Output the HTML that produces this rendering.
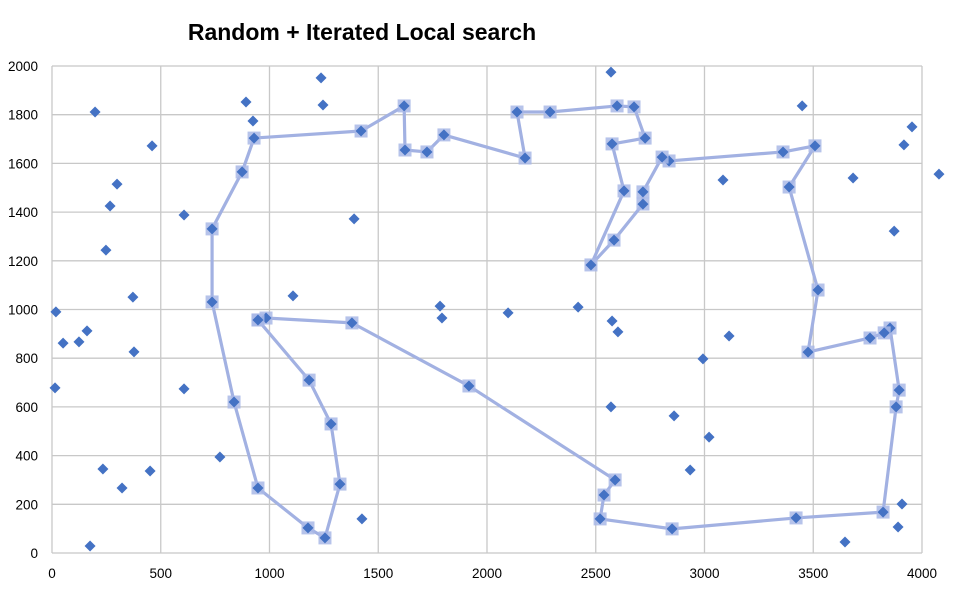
<!DOCTYPE html>
<html><head><meta charset="utf-8"><style>
body{margin:0;background:#fff;}
svg{display:block;font-family:"Liberation Sans",sans-serif;}
</style></head><body>
<svg id="c" width="955" height="589">
<text x="362" y="40" text-anchor="middle" font-size="23" font-weight="bold" fill="#000">Random + Iterated Local search</text>
<g id="grid"></g><g id="tour"></g><g id="pts"></g><g id="ticks"></g>
</svg>
<script>
const xTicks=[0,500,1000,1500,2000,2500,3000,3500,4000];
const yTicks=[0,200,400,600,800,1000,1200,1400,1600,1800,2000];
const tourX=[947,984,1379,1917,2589,2538,2520,2851,3421,3821,3881,3895,3853,3826,3761,3476,3522,3389,3508,3361,2837,2805,2717,2717,2584,2478,2630,2575,2727,2676,2598,2290,2138,2175,1802,1724,1623,1619,1421,929,874,736,736,837,947,1177,1255,1324,1283,1182,947];
const tourY=[957,965,945,686,300,238,140,99,144,168,600,669,924,904,883,825,1080,1503,1672,1647,1610,1626,1483,1433,1285,1183,1487,1680,1704,1832,1836,1811,1811,1622,1717,1647,1655,1836,1733,1704,1565,1331,1031,620,267,103,62,283,530,710,957];
const otherX=[198,460,299,267,248,372,18,51,124,161,377,14,607,607,772,234,322,451,175,892,924,1237,1246,1389,1108,1784,1793,2097,2419,1425,2570,2575,2602,2570,2860,2934,3021,2993,3113,3449,3085,3683,3954,3917,4078,3872,3908,3890,3646];
const otherY=[1811,1672,1515,1425,1244,1051,990,862,867,912,826,678,1388,674,394,345,267,337,29,1852,1774,1951,1840,1372,1056,1014,965,986,1010,140,1975,953,908,600,563,341,476,797,891,1836,1532,1540,1750,1676,1556,1322,201,107,45];
const L=52,R=922,T=66,B=553;
const sx=v=>L+(v/4000)*(R-L), sy=v=>B-(v/2000)*(B-T);
const NS='http://www.w3.org/2000/svg';
function mk(t,a,p){const e=document.createElementNS(NS,t);for(const k in a)e.setAttribute(k,a[k]);p.appendChild(e);return e;}
const g=document.getElementById('grid'),tk=document.getElementById('ticks');
xTicks.forEach(v=>{
 const l=mk('line',{x1:sx(v),x2:sx(v),y1:T,y2:B,stroke:'#c8c8c8','stroke-width':1.3},g);
 
 
 const t=mk('text',{x:sx(v),y:B+25,'text-anchor':'middle','font-size':13.5,fill:'#000'},tk);t.textContent=v;
 
 
});
yTicks.forEach(v=>{
 const l=mk('line',{x1:L,x2:R,y1:sy(v),y2:sy(v),stroke:'#c8c8c8','stroke-width':1.3},g);
 
 
 const t=mk('text',{x:38,y:sy(v)+5,'text-anchor':'end','font-size':13.5,fill:'#000'},tk);t.textContent=v;
 
 
});
const tg=document.getElementById('tour'),pg=document.getElementById('pts');
const pl=mk('polyline',{points:tourX.map((x,i)=>sx(x)+','+sy(tourY[i])).join(' '),fill:'none',stroke:'#a2b1e2','stroke-width':3.2,'stroke-linejoin':'round'},tg);


function diamond(x,y,halo,name){
 const cx=sx(x),cy=sy(y);
 if(halo){const h=mk('rect',{x:cx-6.5,y:cy-6.5,width:13,height:13,fill:'#a9b8e6',opacity:0.85},pg);
  
  }
 const d=mk('polygon',{points:`${cx},${cy-5.5} ${cx+5.5},${cy} ${cx},${cy+5.5} ${cx-5.5},${cy}`,fill:'#4472c4'},pg);
 
 
}
tourX.forEach((x,i)=>diamond(x,tourY[i],true,'tour-point'));
otherX.forEach((x,i)=>diamond(x,otherY[i],false,'city-point'));
</script>
</body></html>
